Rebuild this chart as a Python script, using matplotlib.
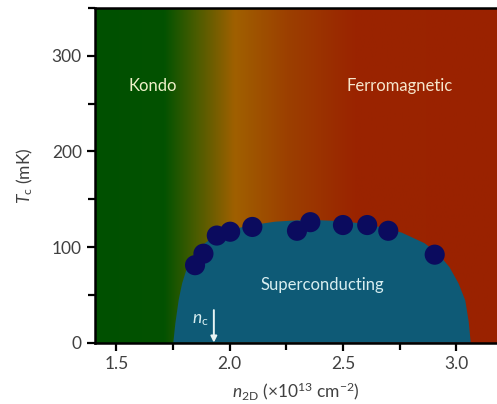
import numpy as np
import matplotlib
matplotlib.use("Agg")
import matplotlib.pyplot as plt
from matplotlib.colors import LinearSegmentedColormap
from matplotlib.ticker import MultipleLocator

plt.rcParams['font.family'] = ['Lato', 'DejaVu Sans']
plt.rcParams['mathtext.fontset'] = 'custom'
plt.rcParams['mathtext.rm'] = 'Lato'
plt.rcParams['mathtext.it'] = 'Lato:italic'

# measured Tc points
n2d = [1.847, 1.884, 1.943, 2.002, 2.10, 2.297, 2.356, 2.50, 2.607, 2.70, 2.905]
tc = [81, 93, 112, 116, 121, 117, 126, 123, 123, 117, 92]

# outline of the superconducting dome
dome_x = [1.751, 1.76, 1.775, 1.79, 1.81, 1.84, 1.88, 1.93, 2.0, 2.1, 2.2, 2.3,
          2.4, 2.5, 2.6, 2.7, 2.76, 2.86, 2.92, 2.97, 3.01, 3.04, 3.055, 3.064]
dome_y = [0, 20, 45, 62, 77, 91, 102, 111, 118, 123, 126.5, 128, 128, 127,
          124, 119, 115, 104, 93, 79, 62, 44, 22, 0]

# background colour stops: (density, colour)
bg_stops = [(1.40, '#005000'), (1.71, '#035200'), (1.85, '#4a5c00'),
            (2.02, '#a06000'), (2.25, '#9c4000'), (2.55, '#9a2400'),
            (3.18, '#9a2200')]

xmin, xmax = 1.405, 3.18
ymin, ymax = 0, 350

fig = plt.figure(figsize=(4.97, 4.04), dpi=100)
ax = fig.add_axes([0.191, 0.152, 0.809, 0.828])

pos = [(x - xmin) / (xmax - xmin) for x, _ in bg_stops]
pos[0], pos[-1] = 0.0, 1.0
cmap = LinearSegmentedColormap.from_list('phase', list(zip(pos, [c for _, c in bg_stops])))
grad = np.linspace(0, 1, 512).reshape(1, -1)
ax.imshow(grad, cmap=cmap, aspect='auto', extent=[xmin, xmax, ymin, ymax],
          interpolation='bilinear', zorder=0)

ax.fill(dome_x, dome_y, color='#0e5a76', lw=0, zorder=1)
ax.scatter(n2d, tc, s=210, color='#0b0b5e', edgecolors='none', zorder=3)

ax.text(1.66, 268, 'Kondo', color='#eef0c8', fontsize=12, ha='center', va='center')
ax.text(2.75, 268, 'Ferromagnetic', color='#f6e6cc', fontsize=12, ha='center', va='center')
ax.text(2.41, 60, 'Superconducting', color='#d8eef0', fontsize=12, ha='center', va='center')
ax.text(1.87, 24, r'$n_{\rm c}$', color='#d8eef0', fontsize=12.5, ha='center', va='center')
ax.annotate('', xy=(1.93, 0), xytext=(1.93, 34),
            arrowprops=dict(arrowstyle='-|>', color='#e8f4f4', lw=1.4,
                            mutation_scale=9, shrinkA=0, shrinkB=0), zorder=4)

ax.set_xlim(xmin, xmax)
ax.set_ylim(ymin, ymax)
ax.xaxis.set_major_locator(MultipleLocator(0.5))
ax.xaxis.set_minor_locator(MultipleLocator(0.25))
ax.yaxis.set_major_locator(MultipleLocator(100))
ax.yaxis.set_minor_locator(MultipleLocator(50))
ax.tick_params(which='both', direction='out', width=1.6, colors='black',
               labelcolor='#404040', labelsize=12.5)
ax.tick_params(which='major', length=6)
ax.tick_params(which='minor', length=5)

for side in ['left', 'bottom', 'top']:
    ax.spines[side].set_linewidth(1.8)
ax.spines['right'].set_visible(False)

ax.set_xlabel(r'$n_{\rm 2D}$ (×10$^{13}$ cm$^{-2}$)', fontsize=12.5, color='#404040', labelpad=6)
ax.set_ylabel(r'$T_{\rm c}$ (mK)', fontsize=12.5, color='#404040', labelpad=12)

fig.savefig('out.png', dpi=100)
